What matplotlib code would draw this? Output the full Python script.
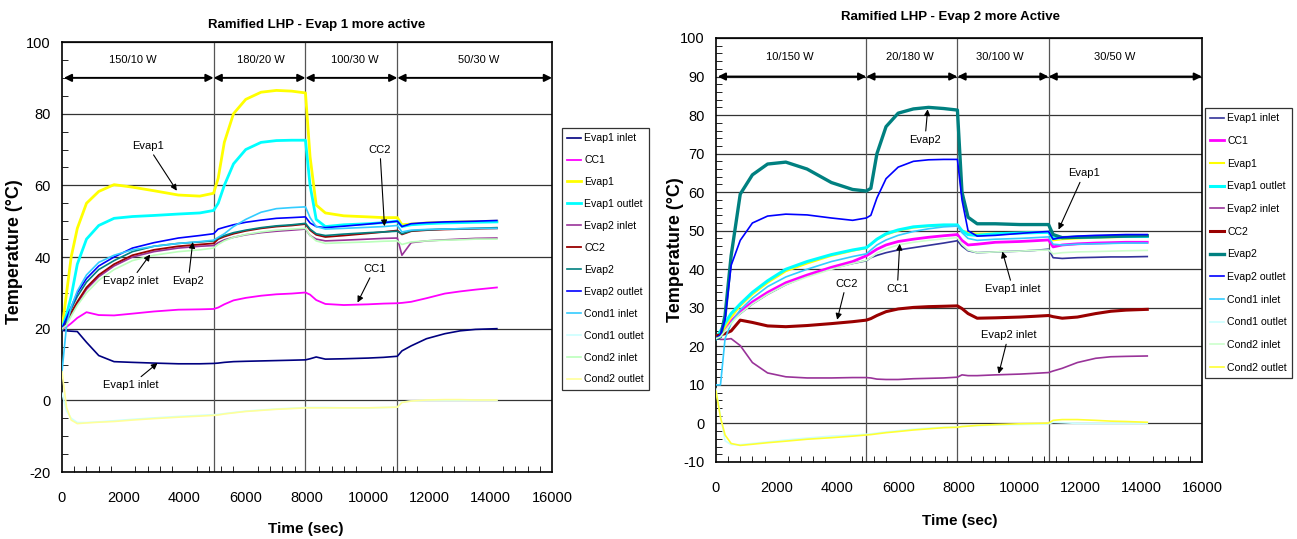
import matplotlib
matplotlib.use('Agg')
import matplotlib.pyplot as plt
from matplotlib.ticker import MultipleLocator

plt.rcParams['font.family'] = ['Liberation Sans', 'DejaVu Sans']
plt.rcParams['axes.unicode_minus'] = False

# shared time base (s) for both tests
time_s = [0, 150, 300, 500, 800, 1200, 1700, 2300, 3000, 3800, 4500, 4950,
          5100, 5300, 5600, 6000, 6500, 7000, 7500, 7950, 8100, 8300, 8600,
          9200, 10000, 10500, 10950, 11100, 11400, 11900, 12500, 13000, 13500, 14200]

series_names = ['Evap1 inlet', 'CC1', 'Evap1', 'Evap1 outlet', 'Evap2 inlet', 'CC2',
                'Evap2', 'Evap2 outlet', 'Cond1 inlet', 'Cond1 outlet', 'Cond2 inlet', 'Cond2 outlet']

# ---- test 1 : Evap 1 more active ----
l_evap1_inlet = [19.5, 19.4, 19.3, 19.2, 16.2, 12.5, 10.8, 10.6, 10.4, 10.2, 10.2, 10.3,
                 10.4, 10.6, 10.8, 10.9, 11.0, 11.1, 11.2, 11.3, 11.6, 12.1, 11.5,
                 11.6, 11.8, 12.0, 12.3, 13.8, 15.2, 17.2, 18.6, 19.4, 19.8, 20.0]
l_cc1 = [20, 20.5, 21.5, 23.0, 24.6, 23.8, 23.7, 24.2, 24.8, 25.3, 25.4, 25.5,
         25.9, 26.8, 27.9, 28.6, 29.2, 29.6, 29.8, 30.1, 29.5, 28.0, 26.9,
         26.6, 26.8, 27.0, 27.1, 27.2, 27.5, 28.5, 29.8, 30.4, 30.9, 31.5]
l_evap1 = [20, 30, 40, 48, 55, 58.3, 60.2, 59.5, 58.5, 57.3, 57.0, 57.8,
           62, 72, 80, 84, 86, 86.5, 86.3, 85.8, 68, 54.5, 52.3,
           51.5, 51.2, 51.0, 51.0, 49.0, 49.2, 49.5, 49.7, 49.8, 49.9, 50.0]
l_evap1_outlet = [20, 24, 29, 38, 45, 48.8, 50.8, 51.3, 51.6, 52.0, 52.3, 53.0,
                  55, 60, 66, 70, 72, 72.5, 72.6, 72.6, 60, 50.5, 48.5,
                  49.0, 49.3, 49.6, 50.0, 48.5, 49.0, 49.3, 49.5, 49.6, 49.7, 49.8]
l_evap2_inlet = [20, 21.5, 24, 27, 31, 34.5, 37.5, 40, 41.5, 42.5, 43, 43.2,
                 44, 44.8, 45.5, 46.2, 46.8, 47.2, 47.5, 47.8, 46, 45, 44.5,
                 44.7, 45, 45.2, 45.3, 40.5, 44, 44.5, 44.8, 45, 45.2, 45.3]
l_cc2 = [20, 22, 24.5, 27.5, 31.5, 35, 38, 40.5, 42, 43, 43.5, 43.8,
         45, 45.7, 46.5, 47.3, 48, 48.5, 48.8, 49.2, 47.5, 46.2, 45.6,
         46, 46.6, 47, 47.4, 46.3, 47.2, 47.5, 47.7, 47.8, 47.9, 48]
l_evap2 = [20, 22.5, 25.5, 29, 33, 36.5, 39, 41.5, 43, 43.8, 44.2, 44.5,
           45.3, 46, 46.8, 47.5, 48.2, 48.7, 49, 49.4, 47.8, 46.5, 46,
           46.4, 46.8, 47, 47.2, 46.5, 47.3, 47.6, 47.8, 47.9, 48, 48.2]
l_evap2_outlet = [20, 23, 26, 30, 34, 37.5, 40, 42.5, 44, 45.3, 46, 46.5,
                  47.8, 48.3, 49, 49.7, 50.3, 50.8, 51, 51.2, 49.5, 48.5, 48.2,
                  48.6, 49.2, 49.6, 50, 48.5, 49.3, 49.6, 49.8, 49.9, 50, 50.2]
l_cond1_inlet = [8, 21, 26, 30.5, 35, 38.5, 40.5, 42, 43, 43.8, 44.3, 44.7,
                 45.5, 46.5, 48.5, 50.5, 52.5, 53.5, 53.8, 54, 51, 48.5, 47.8,
                 48, 48.3, 48.5, 48.8, 47, 47.5, 47.7, 47.8, 47.9, 48, 48]
l_cond1_outlet = [2, -3, -5, -6.2, -6.2, -6, -5.7, -5.3, -4.9, -4.5, -4.2, -4,
                  -3.9, -3.7, -3.4, -3, -2.7, -2.4, -2.2, -2, -2, -2, -2,
                  -2.1, -2.1, -2, -1.9, -0.5, -0.2, 0, 0, 0, 0, 0]
l_cond2_inlet = [20, 21, 23.5, 26.5, 30, 33.5, 36.5, 39, 40.5, 41.5, 42, 42.5,
                 43.5, 44.5, 45.5, 46.3, 47, 47.5, 47.8, 48, 46, 44.5, 43.8,
                 44, 44.2, 44.4, 44.5, 43.5, 44.2, 44.5, 44.7, 44.8, 45, 45]
l_cond2_outlet = [8, -2, -5.5, -6.5, -6.3, -6.1, -5.9, -5.5, -5.1, -4.7, -4.4, -4.2,
                  -4.1, -3.8, -3.5, -3.1, -2.8, -2.5, -2.3, -2.1, -2.1, -2.1, -2.1,
                  -2.1, -2.1, -2, -1.9, -0.6, -0.2, 0.1, 0.2, 0.2, 0.1, 0.1]

# ---- test 2 : Evap 2 more active ----
r_evap1_inlet = [22, 23, 24.5, 26.5, 28.5, 31, 33.5, 36, 38.3, 40.2, 41.5, 42.2,
                 43, 43.6, 44.3, 45, 45.6, 46.2, 46.8, 47.4, 46, 44.8, 44.3,
                 44.5, 44.7, 44.9, 45.2, 43, 42.8, 43, 43.1, 43.2, 43.2, 43.3]
r_cc1 = [22, 23, 24.5, 26.5, 29, 31.5, 34, 36.5, 38.5, 40.5, 42, 43.5,
         44.2, 45.2, 46.3, 47.2, 47.8, 48.3, 48.7, 49, 47.5, 46.3, 46.5,
         47, 47.2, 47.4, 47.6, 45.8, 46.3, 46.6, 46.8, 46.9, 47, 47]
r_evap1 = [22, 23, 25, 27.5, 30.5, 33.5, 36.5, 39.5, 41.5, 43.5, 44.8, 45.5,
           46.5, 47.8, 49, 50, 50.8, 51.2, 51.3, 51.3, 50, 49.5, 49.2,
           49.3, 49.4, 49.5, 49.7, 47.5, 47.8, 48, 48.2, 48.3, 48.4, 48.5]
r_evap1_outlet = [22, 24, 26, 28.5, 31, 34, 37, 40, 42, 43.8, 45, 45.6,
                  46.5, 47.8, 49.2, 50.2, 51, 51.3, 51.5, 51.5, 50, 49, 48.8,
                  49.2, 49.4, 49.5, 49.6, 48, 48.2, 48.3, 48.4, 48.5, 48.5, 48.5]
r_evap2_inlet = [22.2, 21.8, 21.8, 22, 20.2, 15.8, 13.1, 12.1, 11.8, 11.8, 11.9, 11.9,
                 11.8, 11.5, 11.4, 11.4, 11.6, 11.7, 11.8, 12, 12.6, 12.4, 12.4,
                 12.6, 12.8, 13, 13.2, 13.6, 14.3, 15.8, 16.9, 17.3, 17.4, 17.5]
r_cc2 = [22.7, 23, 23.3, 24, 26.8, 26.2, 25.3, 25.1, 25.4, 25.9, 26.4, 26.8,
         27.2, 28, 29, 29.7, 30.1, 30.3, 30.4, 30.5, 29.8, 28.5, 27.3,
         27.4, 27.6, 27.8, 28, 27.7, 27.3, 27.6, 28.5, 29.1, 29.4, 29.6]
r_evap2 = [22, 22.5, 28, 43.5, 59.5, 64.5, 67.3, 67.8, 66, 62.5, 60.7, 60.3,
           61, 70, 77, 80.5, 81.6, 82, 81.7, 81.3, 60, 53.5, 51.8,
           51.8, 51.6, 51.6, 51.6, 49, 48.2, 48.3, 48.4, 48.5, 48.6, 48.7]
r_evap2_outlet = [22, 23, 27, 41, 47.5, 52, 53.8, 54.3, 54.1, 53.3, 52.7, 53.3,
                  54, 58.5, 63.5, 66.5, 68, 68.4, 68.5, 68.5, 58, 50, 48.6,
                  48.8, 49.3, 49.6, 49.8, 47.8, 48.3, 48.6, 48.8, 48.9, 49, 49]
r_cond1_inlet = [10, 10, 22, 26, 29.5, 32.5, 35.5, 38, 40, 42, 43.3, 44,
                 45, 46.3, 47.6, 48.8, 49.8, 50.5, 51, 51.2, 49.5, 48, 47.5,
                 47.8, 48, 48.2, 48.4, 46.5, 46.3, 46.5, 46.6, 46.7, 46.8, 46.8]
r_cond1_outlet = [9, 2, -4.5, -5.5, -5.5, -5.2, -4.8, -4.3, -3.8, -3.3, -3, -2.8,
                  -2.7, -2.5, -2.2, -1.9, -1.5, -1.2, -1, -0.9, -0.8, -0.7, -0.6,
                  -0.4, -0.3, -0.2, -0.1, 0.3, 0.2, 0, 0, 0, 0, 0]
r_cond2_inlet = [22, 22.5, 24, 26, 28.5, 31, 33.5, 36, 38, 40, 41.5, 42.3,
                 43, 44.2, 45.3, 46.3, 47, 47.5, 47.9, 48.2, 46.5, 45, 44.3,
                 44.5, 44.7, 44.9, 45, 44, 44.3, 44.5, 44.6, 44.7, 44.8, 44.9]
r_cond2_outlet = [8.4, 1.5, -3, -5.2, -5.7, -5.4, -5, -4.6, -4.1, -3.7, -3.3, -3,
                  -2.9, -2.7, -2.4, -2.1, -1.7, -1.4, -1.1, -1, -0.8, -0.7, -0.5,
                  -0.3, -0.1, 0, 0.1, 0.8, 1, 1, 0.8, 0.6, 0.5, 0.3]

phase_bounds = [0, 4950, 7950, 10950, 16000]
l_phase_labels = ['150/10 W', '180/20 W', '100/30 W', '50/30 W']
r_phase_labels = ['10/150 W', '20/180 W', '30/100 W', '30/50 W']

left_data = [l_evap1_inlet, l_cc1, l_evap1, l_evap1_outlet, l_evap2_inlet, l_cc2,
             l_evap2, l_evap2_outlet, l_cond1_inlet, l_cond1_outlet, l_cond2_inlet, l_cond2_outlet]
right_data = [r_evap1_inlet, r_cc1, r_evap1, r_evap1_outlet, r_evap2_inlet, r_cc2,
              r_evap2, r_evap2_outlet, r_cond1_inlet, r_cond1_outlet, r_cond2_inlet, r_cond2_outlet]

left_colors = ['#000080', '#FF00FF', '#FFFF00', '#00FFFF', '#993399', '#990000',
               '#008080', '#0000FF', '#33CCFF', '#CCFFFF', '#BBFFBB', '#FFFF99']
right_colors = ['#333399', '#FF00FF', '#FFFF00', '#00FFFF', '#993399', '#990000',
                '#008080', '#0000FF', '#33CCFF', '#CCFFFF', '#CCFFCC', '#FFFF33']
left_widths = [1.2, 1.3, 2.0, 2.0, 1.2, 1.3, 1.2, 1.2, 1.2, 1.2, 1.2, 1.2]
right_widths = [1.2, 2.0, 1.5, 2.2, 1.2, 2.2, 2.4, 1.2, 1.2, 1.2, 1.2, 1.2]


def draw_panel(ax, data, colors, widths, ylim, ymajor, yminor, phase_labels, label_x):
    ax.set_xlim(0, 16000)
    ax.set_ylim(*ylim)
    ax.xaxis.set_major_locator(MultipleLocator(2000))
    ax.xaxis.set_minor_locator(MultipleLocator(400))
    ax.yaxis.set_major_locator(MultipleLocator(ymajor))
    ax.yaxis.set_minor_locator(MultipleLocator(yminor))
    ax.tick_params(which='both', direction='in', labelsize=10.5)
    ax.tick_params(axis='x', which='major', pad=14, length=0)
    ax.tick_params(axis='y', which='major', pad=8, length=0)
    ax.tick_params(which='minor', length=4)
    ax.grid(True, axis='y', color='#333333', lw=0.9)
    ax.set_axisbelow(True)
    for b in phase_bounds[1:-1]:
        ax.axvline(b, color='#555555', lw=0.9, zorder=1)
    for s in ax.spines.values():
        s.set_linewidth(1.2)

    lines = []
    for name, vals, c, w in zip(series_names, data, colors, widths):
        ln, = ax.plot(time_s, vals, color=c, lw=w, label=name, zorder=3)
        lines.append(ln)

    # power steps
    for i in range(4):
        x0 = phase_bounds[i] if i > 0 else 60
        ax.annotate('', xy=(phase_bounds[i + 1], 90), xytext=(x0, 90),
                    arrowprops=dict(arrowstyle='<|-|>', color='black', lw=1.4,
                                    mutation_scale=11, shrinkA=0, shrinkB=0), zorder=4)
        ax.text(label_x[i], 95, phase_labels[i], ha='center', va='center', fontsize=8)
    return lines


def note(ax, text, xy, xytext):
    ax.annotate(text, xy=xy, xytext=xytext, ha='center', va='center', fontsize=8,
                arrowprops=dict(arrowstyle='-|>', color='black', lw=0.8,
                                mutation_scale=9, shrinkA=1, shrinkB=0), zorder=5)


fig = plt.figure(figsize=(12.97, 5.39), dpi=100)

ax1 = fig.add_axes([0.0478, 0.1243, 0.3778, 0.7977])
lines1 = draw_panel(ax1, left_data, left_colors, left_widths, (-20, 100), 20, 5,
                    l_phase_labels, [2300, 6500, 9560, 13590])
note(ax1, 'Evap1', (3750, 58.5), (2800, 71))
note(ax1, 'CC2', (10530, 48.6), (10380, 70))
note(ax1, 'CC1', (9650, 27.3), (10200, 36.7))
note(ax1, 'Evap2 inlet', (2880, 40.7), (2240, 33.2))
note(ax1, 'Evap2', (4270, 44.2), (4120, 33.2))
note(ax1, 'Evap1 inlet', (3120, 10.4), (2240, 4.2))

ax2 = fig.add_axes([0.552, 0.1429, 0.3747, 0.7866])
lines2 = draw_panel(ax2, right_data, right_colors, right_widths, (-10, 100), 10, 2,
                    r_phase_labels, [2425, 6385, 9350, 13130])
note(ax2, 'Evap2', (6970, 81.5), (6880, 73.5))
note(ax2, 'Evap1', (11280, 50.3), (12120, 64.9))
note(ax2, 'CC2', (3990, 26.9), (4290, 36.3))
note(ax2, 'CC1', (6050, 46.6), (5970, 34.8))
note(ax2, 'Evap1 inlet', (9430, 44.6), (9780, 34.8))
note(ax2, 'Evap2 inlet', (9310, 12.9), (9630, 22.9))

fig.text(0.2444, 0.9536, 'Ramified LHP - Evap 1 more active', ha='center', va='center',
         fontsize=9.5, fontweight='bold')
fig.text(0.733, 0.9685, 'Ramified LHP - Evap 2 more Active', ha='center', va='center',
         fontsize=9.5, fontweight='bold')
fig.text(0.011, 0.5325, 'Temperature (°C)', rotation=90, ha='center', va='center',
         fontsize=13, fontweight='bold')
fig.text(0.521, 0.536, 'Temperature (°C)', rotation=90, ha='center', va='center',
         fontsize=13, fontweight='bold')
fig.text(0.236, 0.0186, 'Time (sec)', ha='center', va='center', fontsize=11, fontweight='bold')
fig.text(0.740, 0.0334, 'Time (sec)', ha='center', va='center', fontsize=11, fontweight='bold')

leg_kw = dict(loc='upper left', fontsize=7.6, frameon=True, fancybox=False, handlelength=1.3,
              handletextpad=0.3, borderpad=0.5, borderaxespad=0)
leg1 = fig.legend(lines1, series_names, bbox_to_anchor=(0.4333, 0.7625), labelspacing=1.13, **leg_kw)
leg2 = fig.legend(lines2, series_names, bbox_to_anchor=(0.929, 0.7996), labelspacing=1.2, **leg_kw)
for lg in (leg1, leg2):
    lg.get_frame().set_edgecolor('black')
    lg.get_frame().set_linewidth(0.9)

fig.savefig('out.png', dpi=100)
plt.close(fig)
